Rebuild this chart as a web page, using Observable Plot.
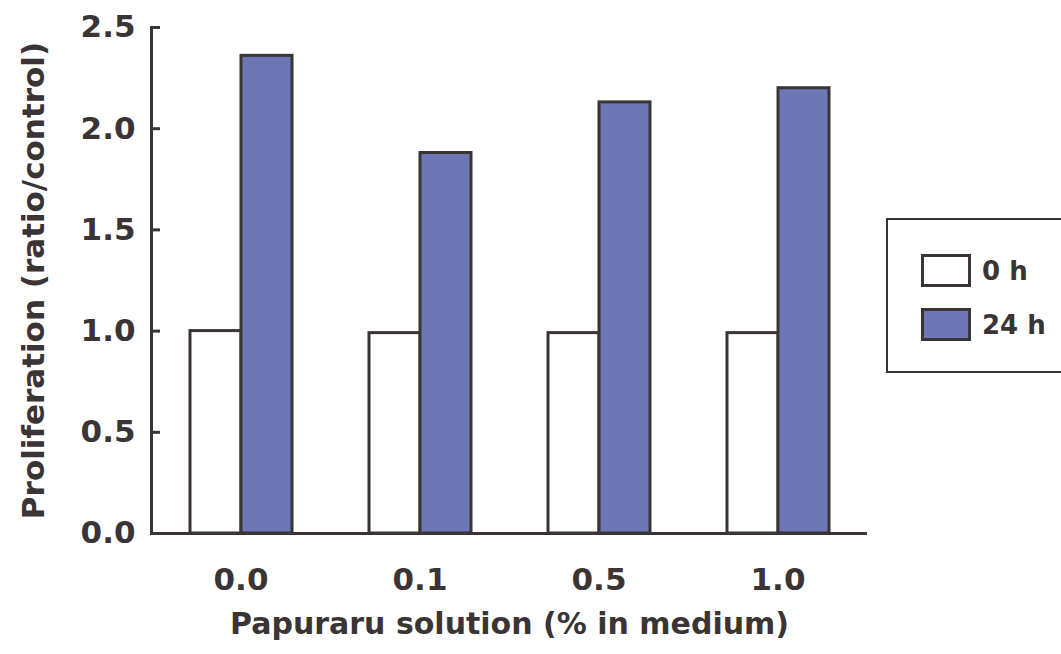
<!DOCTYPE html>
<html>
<head>
<meta charset="utf-8">
<script src="https://cdn.jsdelivr.net/npm/d3@7"></script>
<script src="https://cdn.jsdelivr.net/npm/@observablehq/plot@0.6"></script>
<style>
  html, body { margin: 0; padding: 0; background: #ffffff; overflow: hidden; }
  #wrap { position: relative; width: 1061px; height: 654px; font-family: "DejaVu Sans", sans-serif; color: #3a3435; }
  #legend { position: absolute; left: 886px; top: 218px; width: 220px; height: 155px; border: 2px solid #3a3435; box-sizing: border-box; background: #fff; }
  .item { position: absolute; left: 33px; display: flex; align-items: center; font-size: 26px; font-weight: bold; }
  .sw { width: 50px; height: 33px; border: 3px solid #3a3435; box-sizing: border-box; margin-right: 11px; }
</style>
</head>
<body>
<div id="wrap"></div>
<script>
const groups = ["0.0", "0.1", "0.5", "1.0"];
const series = ["0 h", "24 h"];
const values0h = [1.00, 0.99, 0.99, 0.99];
const values24h = [2.36, 1.88, 2.13, 2.20];
const yTicks = [0, 0.5, 1.0, 1.5, 2.0, 2.5];
const seriesColors = ["#ffffff", "#6e77b6"];
const xLabel = "Papuraru solution (% in medium)";
const yLabel = "Proliferation (ratio/control)";

const data = groups.flatMap((g, i) => [
  {group: g, series: series[0], value: values0h[i]},
  {group: g, series: series[1], value: values24h[i]}
]);

const ink = "#3a3435";
const chart = Plot.plot({
  width: 1061,
  height: 654,
  marginLeft: 150,
  marginRight: 194,
  marginTop: 27,
  marginBottom: 121,
  style: {fontFamily: "DejaVu Sans, sans-serif", fontSize: "28px", fontWeight: "bold", color: ink, background: "transparent"},
  fx: {domain: groups, padding: 0, label: xLabel, labelArrow: "none"},
  x: {domain: series, paddingInner: 0, paddingOuter: 0.727, axis: null},
  y: {domain: [0, 2.5], label: yLabel, labelArrow: "none"},
  color: {domain: series, range: seriesColors},
  marks: [
    Plot.barY(data, {fx: "group", x: "series", y: "value", fill: "series", stroke: ink, strokeWidth: 3}),
    Plot.ruleY([0], {stroke: ink, strokeWidth: 3}),
    Plot.frame({anchor: "left", facetAnchor: "left", stroke: ink, strokeWidth: 3}),
    Plot.ruleY(yTicks, {facetAnchor: "left", stroke: ink, strokeWidth: 3, insetRight: 170}),
    Plot.axisFx({anchor: "bottom", tickSize: 0, tickPadding: 34, fontSize: 31, label: null}),
    Plot.axisFx({anchor: "bottom", tickSize: 0, fontSize: 30, tickFormat: () => "", label: xLabel, labelArrow: "none", labelAnchor: "center", labelOffset: 100}),
    Plot.axisY(yTicks, {anchor: "left", tickSize: 0, tickPadding: 16, fontSize: 31, tickFormat: d => d.toFixed(1), label: null}),
    Plot.axisY(yTicks, {anchor: "left", tickSize: 0, fontSize: 31, tickFormat: () => "", label: yLabel, labelArrow: "none", labelAnchor: "center", labelOffset: 130})
  ]
});
const wrap = document.getElementById("wrap");
wrap.appendChild(chart);

const legend = document.createElement("div");
legend.id = "legend";
series.forEach((s, i) => {
  const item = document.createElement("div");
  item.className = "item";
  item.style.top = (34 + i * 54) + "px";
  const sw = document.createElement("div");
  sw.className = "sw";
  sw.style.background = seriesColors[i];
  const t = document.createElement("span");
  t.textContent = s;
  item.appendChild(sw);
  item.appendChild(t);
  legend.appendChild(item);
});
wrap.appendChild(legend);
</script>
</body>
</html>
